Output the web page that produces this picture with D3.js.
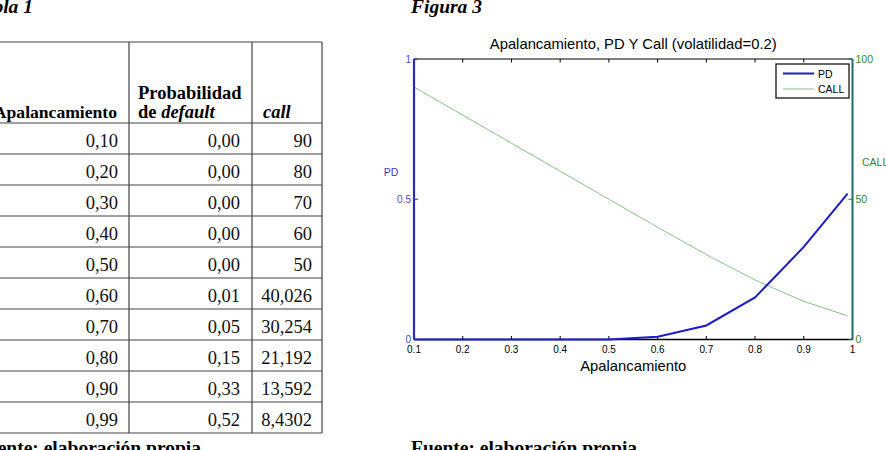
<!DOCTYPE html>
<html><head><meta charset="utf-8">
<script src="https://cdn.jsdelivr.net/npm/d3@7"></script>
<style>body{margin:0;background:#fff}svg{display:block}</style>
</head><body>
<svg id="c" width="886" height="450"></svg>
<script>
// ---- data ----
const leverage = [0.1,0.2,0.3,0.4,0.5,0.6,0.7,0.8,0.9,0.99];
const pd = [0,0,0,0,0,0.01,0.05,0.15,0.33,0.52];
const call = [90,80,70,60,50,40.026,30.254,21.192,13.592,8.4302];
const tblLev = ["0,10","0,20","0,30","0,40","0,50","0,60","0,70","0,80","0,90","0,99"];
const tblPd = ["0,00","0,00","0,00","0,00","0,00","0,01","0,05","0,15","0,33","0,52"];
const tblCall = ["90","80","70","60","50","40,026","30,254","21,192","13,592","8,4302"];
const xTicks = [0.1,0.2,0.3,0.4,0.5,0.6,0.7,0.8,0.9,1];
const pdTicks = [0,0.5,1];
const callTicks = [0,50,100];
const seriesNames = ["PD","CALL"];

const svg = d3.select("#c");
const serif = "'Liberation Serif','Times New Roman',serif";
const sans = "'Liberation Sans',Arial,Helvetica,sans-serif";

// ---- table ----
const t = svg.append("g");
const colX = [-40,129,252,322];
const headTop = 42, headBot = 123, rowH = 31;
const rowY = d3.range(tblLev.length+1).map(i=>headBot+i*rowH);
const lineC = "#444";
t.append("line").attr("x1",-5).attr("x2",colX[3]).attr("y1",headTop).attr("y2",headTop).attr("stroke",lineC).attr("stroke-width",1.2);
rowY.forEach(y=>t.append("line").attr("x1",-5).attr("x2",colX[3]).attr("y1",y).attr("y2",y).attr("stroke",lineC).attr("stroke-width",1.2));
[1,2,3].forEach(i=>t.append("line").attr("x1",colX[i]).attr("x2",colX[i]).attr("y1",headTop).attr("y2",rowY[rowY.length-1]).attr("stroke",lineC).attr("stroke-width",1.2));
const fs = 18.5;
t.append("text").attr("x",117).attr("y",118).attr("text-anchor","end").attr("font-family",serif).attr("font-weight","bold").attr("font-size",17.6).text("Apalancamiento");
t.append("text").attr("x",138).attr("y",99).attr("font-family",serif).attr("font-weight","bold").attr("font-size",fs).text("Probabilidad");
const h2 = t.append("text").attr("x",138).attr("y",118).attr("font-family",serif).attr("font-weight","bold").attr("font-size",fs);
h2.append("tspan").text("de ");
h2.append("tspan").attr("font-style","italic").text("default");
t.append("text").attr("x",263).attr("y",118).attr("font-family",serif).attr("font-weight","bold").attr("font-style","italic").attr("font-size",fs).text("call");
const cols = [[tblLev,118],[tblPd,240],[tblCall,312]];
cols.forEach(([arr,xe])=>{
  t.selectAll(null).data(arr).enter().append("text")
    .attr("x",xe).attr("y",(d,i)=>rowY[i]+24).attr("text-anchor","end")
    .attr("font-family",serif).attr("font-size",fs).attr("fill","#111").text(d=>d);
});
svg.append("text").attr("x",33).attr("y",13).attr("text-anchor","end").attr("font-family",serif).attr("font-weight","bold").attr("font-style","italic").attr("font-size",19.5).text("Tabla 1");
svg.append("text").attr("x",201).attr("y",454).attr("text-anchor","end").attr("font-family",serif).attr("font-weight","bold").attr("font-size",19.5).text("Fuente: elaboración propia");
svg.append("text").attr("x",411).attr("y",13).attr("font-family",serif).attr("font-weight","bold").attr("font-style","italic").attr("font-size",19.5).text("Figura 3");
svg.append("text").attr("x",411).attr("y",454).attr("font-family",serif).attr("font-weight","bold").attr("font-size",19.5).text("Fuente: elaboración propia");

// ---- chart ----
const L=414, R=852.5, T=59, B=339.5;
const x = d3.scaleLinear().domain([0.1,1]).range([L,R]);
const yL = d3.scaleLinear().domain([0,1]).range([B,T]);
const yR = d3.scaleLinear().domain([0,100]).range([B,T]);
const g = svg.append("g");
const blue="#1c1ccc", axBlue="#2a2ab8", green="#2e8b2e", teal="#206a6a";

// top border & bottom axis
g.append("line").attr("x1",L).attr("x2",R).attr("y1",T).attr("y2",T).attr("stroke","#000").attr("stroke-width",1.2);
g.append("line").attr("x1",L).attr("x2",R).attr("y1",B).attr("y2",B).attr("stroke","#000").attr("stroke-width",1.5);
// x ticks (inward, top and bottom)
xTicks.forEach(v=>{
  g.append("line").attr("x1",x(v)).attr("x2",x(v)).attr("y1",B).attr("y2",B-3.5).attr("stroke","#000");
  g.append("line").attr("x1",x(v)).attr("x2",x(v)).attr("y1",T).attr("y2",T+3.5).attr("stroke","#000");
});
g.selectAll(null).data(xTicks).enter().append("text")
  .attr("x",d=>x(d)).attr("y",B+13).attr("text-anchor","middle")
  .attr("font-family",sans).attr("font-size",10).attr("fill","#000").text(d=>d3.format("~g")(d));
g.append("text").attr("x",(L+R)/2).attr("y",B+31).attr("text-anchor","middle").attr("font-family",sans).attr("font-size",14.8).text("Apalancamiento");
g.append("text").attr("x",(L+R)/2).attr("y",49).attr("text-anchor","middle").attr("font-family",sans).attr("font-size",14.8).text("Apalancamiento, PD Y Call (volatilidad=0.2)");

// lines
const lineC1 = d3.line().x((d,i)=>x(leverage[i])).y(d=>yR(d));
g.append("path").attr("d",lineC1(call)).attr("fill","none").attr("stroke","#86c486").attr("stroke-width",1);
const lineP = d3.line().x((d,i)=>x(leverage[i])).y(d=>yL(d));
g.append("path").attr("d",lineP(pd)).attr("fill","none").attr("stroke",blue).attr("stroke-width",2);

// left axis
g.append("line").attr("x1",L).attr("x2",L).attr("y1",T).attr("y2",B).attr("stroke",axBlue).attr("stroke-width",2.2);
pdTicks.forEach(v=>g.append("line").attr("x1",L).attr("x2",L+4).attr("y1",yL(v)).attr("y2",yL(v)).attr("stroke",axBlue));
g.selectAll(null).data(pdTicks).enter().append("text")
  .attr("x",L-3).attr("y",d=>yL(d)+3.5).attr("text-anchor","end")
  .attr("font-family",sans).attr("font-size",10).attr("fill","#4a4ad0").text(d=>d3.format("~g")(d));
g.append("text").attr("x",391).attr("y",176).attr("text-anchor","middle").attr("font-family",sans).attr("font-size",10.5).attr("fill","#3a3ad0").text("PD");

// right axis
g.append("line").attr("x1",R).attr("x2",R).attr("y1",T).attr("y2",B).attr("stroke",teal).attr("stroke-width",2);
callTicks.forEach(v=>g.append("line").attr("x1",R-4).attr("x2",R).attr("y1",yR(v)).attr("y2",yR(v)).attr("stroke",teal));
g.selectAll(null).data(callTicks).enter().append("text")
  .attr("x",R+3).attr("y",d=>yR(d)+3.5).attr("text-anchor","start")
  .attr("font-family",sans).attr("font-size",10.5).attr("fill",green).text(d=>d);
g.append("text").attr("x",862).attr("y",166).attr("text-anchor","start").attr("font-family",sans).attr("font-size",10.5).attr("fill",green).text("CALL");

// legend
const lg = g.append("g");
lg.append("rect").attr("x",776).attr("y",64).attr("width",73).attr("height",34).attr("fill","#fff").attr("stroke","#000").attr("stroke-width",1.2);
const lcol=[blue,"#86c486"], lw=[2,1];
seriesNames.forEach((n,i)=>{
  const yy = 73.5+i*15.5;
  lg.append("line").attr("x1",783).attr("x2",814).attr("y1",yy).attr("y2",yy).attr("stroke",lcol[i]).attr("stroke-width",lw[i]);
  lg.append("text").attr("x",818).attr("y",yy+4).attr("font-family",sans).attr("font-size",10.5).attr("fill","#000").text(n);
});
</script>
</body></html>
